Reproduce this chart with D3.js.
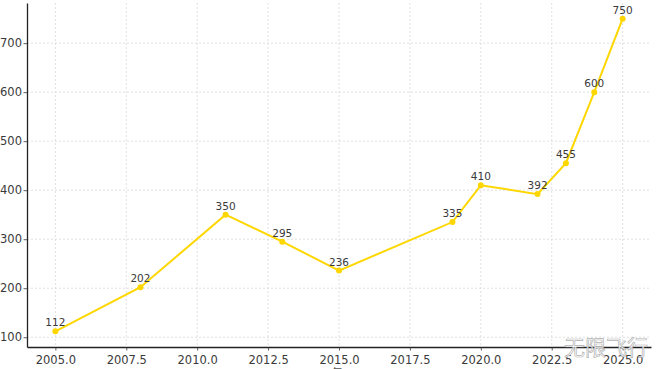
<!DOCTYPE html>
<html>
<head>
<meta charset="utf-8">
<script src="https://cdn.jsdelivr.net/npm/d3@7"></script>
<style>
  html, body { margin: 0; padding: 0; background: #fff; }
  svg { display: block; }
</style>
</head>
<body>
<svg id="chart" width="660" height="369"></svg>
<script>
const years = [2005, 2008, 2011, 2013, 2015, 2019, 2020, 2022, 2023, 2024, 2025];
const values = [112, 202, 350, 295, 236, 335, 410, 392, 455, 600, 750];
const xTicks = [2005, 2007.5, 2010, 2012.5, 2015, 2017.5, 2020, 2022.5, 2025];
const yTicks = [100, 200, 300, 400, 500, 600, 700];

const svg = d3.select("#chart");
const mLeft = 27, mRight = 651, mTop = 3, mBottom = 347;

const x = d3.scaleLinear().domain([2004, 2026]).range([mLeft, mRight]);
const y = d3.scaleLinear().domain([80.1, 781.9]).range([mBottom, mTop]);

// grid
const grid = svg.append("g");
grid.selectAll("line.vx").data(xTicks).enter().append("line")
  .attr("x1", d => x(d)).attr("x2", d => x(d))
  .attr("y1", mTop).attr("y2", mBottom)
  .attr("stroke", "#d8d8d8").attr("stroke-width", 0.8).attr("stroke-dasharray", "2,2");
grid.selectAll("line.hy").data(yTicks).enter().append("line")
  .attr("x1", mLeft).attr("x2", mRight)
  .attr("y1", d => y(d)).attr("y2", d => y(d))
  .attr("stroke", "#d8d8d8").attr("stroke-width", 0.8).attr("stroke-dasharray", "2,2");

// axes
const xAxis = d3.axisBottom(x).tickValues(xTicks).tickFormat(d3.format(".1f")).tickSize(3.5).tickSizeOuter(0);
const yAxis = d3.axisLeft(y).tickValues(yTicks).tickFormat(d3.format("d")).tickSize(3.5).tickSizeOuter(0);

const gx = svg.append("g").attr("transform", `translate(0,${mBottom})`).call(xAxis);
const gy = svg.append("g").attr("transform", `translate(${mLeft},0)`).call(yAxis);
[gx, gy].forEach(g => {
  g.select(".domain").attr("stroke", "#222").attr("stroke-width", 1.3);
  g.selectAll(".tick line").attr("stroke", "#333").attr("stroke-width", 0.8);
  g.selectAll(".tick text").attr("fill", "#3a3a3a")
    .style("font-family", "DejaVu Sans").style("font-size", "11.5px");
});
gx.selectAll(".tick text").attr("dy", "0.95em");
gy.selectAll(".tick text").attr("x", -5);

// line
const pts = years.map((d, i) => ({ year: d, value: values[i] }));
const line = d3.line().x(d => x(d.year)).y(d => y(d.value));
svg.append("path").datum(pts)
  .attr("d", line).attr("fill", "none")
  .attr("stroke", "#FFD700").attr("stroke-width", 2);

svg.selectAll("circle.pt").data(pts).enter().append("circle")
  .attr("cx", d => x(d.year)).attr("cy", d => y(d.value)).attr("r", 3)
  .attr("fill", "#FFD700");

svg.selectAll("text.lbl").data(pts).enter().append("text")
  .attr("x", d => x(d.year)).attr("y", d => y(d.value) - 5)
  .attr("text-anchor", "middle")
  .attr("fill", "#3a3a3a")
  .style("font-family", "DejaVu Sans").style("font-size", "10.5px")
  .text(d => d.value);

// x-axis label (cut off at bottom)
svg.append("text")
  .attr("x", 337).attr("y", 377)
  .attr("text-anchor", "middle")
  .attr("fill", "#555")
  .style("font-family", "Noto Sans CJK SC").style("font-size", "11px")
  .text("年");

// watermark
svg.append("text")
  .attr("x", 606).attr("y", 355)
  .attr("text-anchor", "middle")
  .attr("fill", "rgba(255,255,255,0.9)")
  .attr("stroke", "rgba(140,140,140,0.7)").attr("stroke-width", 0.7)
  .style("font-family", "Noto Sans CJK SC").style("font-size", "21px")
  .text("无限飞行");
</script>
</body>
</html>
